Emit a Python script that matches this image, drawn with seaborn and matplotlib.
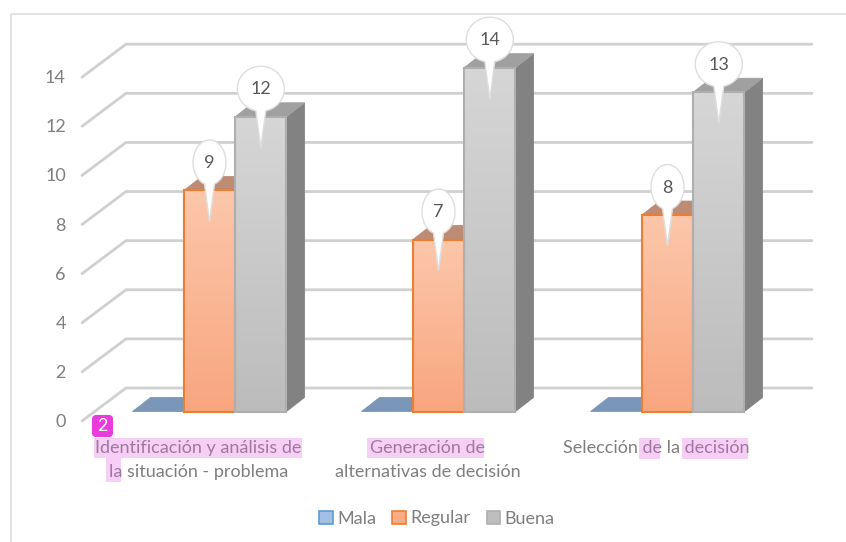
import numpy as np
import pandas as pd
import matplotlib
matplotlib.use("Agg")
import matplotlib.pyplot as plt
import matplotlib.transforms as mtransforms
from matplotlib.colors import LinearSegmentedColormap
from matplotlib.patches import Patch, PathPatch, Polygon, Rectangle, FancyBboxPatch
from matplotlib.path import Path
import seaborn as sns

categorias = ["Identificación y análisis de\nla situación - problema",
              "Generación de\nalternativas de decisión",
              "Selección de la decisión"]
niveles = ["Mala", "Regular", "Buena"]
mala = [0, 0, 0]
regular = [9, 7, 8]
buena = [12, 14, 13]
y_ticks = [0, 2, 4, 6, 8, 10, 12, 14]

W, H = 846, 542
sns.set_theme(style="white")
plt.rcParams["font.family"] = ["Lato", "DejaVu Sans"]
TXT = "#7f7f7f"

df = pd.DataFrame({
    "criterio": categorias * 3,
    "nivel": sum([[n] * 3 for n in niveles], []),
    "valor": mala + regular + buena,
})

fig = plt.figure(figsize=(W / 100, H / 100), dpi=100, facecolor="white")
def px_box(x0, ytop, x1, ybot):
    return [x0 / W, 1 - ybot / H, (x1 - x0) / W, (ybot - ytop) / H]
ax = fig.add_axes(px_box(95, 67.7, 782, 411.5))

face = {"Mala": "#A3BFE3", "Regular": "#F9AC85", "Buena": "#BEBEBE"}
edge = {"Mala": "#5B9BD5", "Regular": "#ED7D31", "Buena": "#AFAFAF"}
top_col = {"Mala": "#7A96B8", "Regular": "#BE8B74", "Buena": "#A0A0A0"}
side_col = {"Mala": "#5F7FA5", "Regular": "#B07050", "Buena": "#828282"}
grad = {"Regular": ("#FCC7AB", "#F8A67F"), "Buena": ("#D6D6D6", "#BCBCBC")}

sns.barplot(data=df, x="criterio", y="valor", hue="nivel", hue_order=niveles,
            palette=face, width=0.672, gap=0, saturation=1, legend=False, ax=ax)
ax.set_xlim(-0.5, 2.5)
ax.set_ylim(0, 14)
ax.set_xlabel("")
ax.set_ylabel("")
sns.despine(ax=ax, left=True, bottom=True)
ax.patch.set_alpha(0)

ux = 687 / 3     # px per category
uy = 343.8 / 14  # px per unit value
dx, dy = 18 / ux, 14 / uy

# back wall grid
wall_x0 = -0.5 + (126 - 95) / ux
wall_x1 = -0.5 + (812 - 95) / ux
wall_dy = 23.5 / uy
floor_x = -0.5 + (82 - 95) / ux
floor_y = -9.5 / uy
for v in y_ticks:
    ax.plot([floor_x, wall_x0, wall_x1], [v + floor_y, v + wall_dy, v + wall_dy],
            color="#D0D0D0", lw=2.0, zorder=0.5, clip_on=False,
            solid_joinstyle="miter", solid_capstyle="round")

# bars: 3D faces, gradient fronts
for nivel, cont in zip(niveles, ax.containers):
    for bar in cont:
        x0, w, h = bar.get_x(), bar.get_width(), bar.get_height()
        x1 = x0 + w
        ax.add_patch(Polygon([(x0, h), (x1, h), (x1 + dx, h + dy), (x0 + dx, h + dy)],
                             closed=True, fc=top_col[nivel], ec=top_col[nivel], lw=0.6,
                             zorder=1.2, clip_on=False))
        if h > 0:
            ax.add_patch(Polygon([(x1, 0), (x1 + dx, dy), (x1 + dx, h + dy), (x1, h)],
                                 closed=True, fc=side_col[nivel], ec=side_col[nivel], lw=0.6,
                                 zorder=1.1, clip_on=False))
            cmap = LinearSegmentedColormap.from_list("g", grad[nivel])
            im = ax.imshow(np.linspace(0, 1, 128)[:, None], cmap=cmap, aspect="auto",
                           extent=(x0, x1, 0, h), origin="upper", zorder=2)
            im.set_clip_path(Rectangle((x0, 0), w, h, transform=ax.transData))
            bar.set_facecolor("none")
            bar.set_edgecolor(edge[nivel])
            bar.set_linewidth(1.5)
            bar.set_zorder(2.1)
            bar.set_clip_on(False)
        else:
            bar.set_visible(False)
ax.set_xlim(-0.5, 2.5)
ax.set_ylim(0, 14)

# callouts (pixel geometry anchored to bar tops)
def callout(width, height=45, up=28, tip=31, half_base=5):
    rx, ry = width / 2, height / 2
    a0 = np.arcsin(half_base / rx)
    th = np.linspace(-np.pi / 2 + a0, 3 * np.pi / 2 - a0, 80)
    pts = np.column_stack([rx * np.cos(th), up + ry * np.sin(th)])
    pts = np.vstack([pts, [0, -tip], pts[0]])
    codes = [Path.MOVETO] + [Path.LINETO] * (len(pts) - 2) + [Path.CLOSEPOLY]
    return Path(pts, codes)

for nivel, cont in zip(niveles[1:], ax.containers[1:]):
    for bar in cont:
        h = bar.get_height()
        xc = bar.get_x() + bar.get_width() / 2
        label = str(int(h))
        tr = mtransforms.ScaledTranslation(xc, h, ax.transData)
        ax.add_patch(PathPatch(callout(33 if len(label) == 1 else 47), fc="white", ec="#DEDEDE",
                               lw=1.0, transform=tr, zorder=4, clip_on=False))
        ax.annotate(label, (xc, h), xytext=(0, 27.5 * 0.72), textcoords="offset points",
                    ha="center", va="center", fontsize=13, color="#595959", zorder=5)

# ticks, moved to the front edge of the floor
ax.set_yticks(y_ticks)
ax.tick_params(axis="both", length=0)
ax.tick_params(axis="y", pad=21, labelsize=13, labelcolor=TXT)
ax.tick_params(axis="x", pad=20.5, labelsize=13, labelcolor=TXT)
off_y = mtransforms.ScaledTranslation(0, -9 / 100, fig.dpi_scale_trans)
for lab in ax.get_yticklabels():
    lab.set_transform(lab.get_transform() + off_y)
off_x = mtransforms.ScaledTranslation(-11 / 100, 0, fig.dpi_scale_trans)
for lab in ax.get_xticklabels():
    lab.set_transform(lab.get_transform() + off_x)
    lab.set_linespacing(1.6)

handles = [Patch(fc=face[n], ec=edge[n], lw=1.2) for n in niveles]
ax.legend(handles, niveles, loc="center", bbox_to_anchor=(437 / W, 1 - 518.5 / H),
          bbox_transform=fig.transFigure, ncol=3, frameon=False, fontsize=13,
          labelcolor=TXT, handlelength=0.75, handleheight=0.75, handletextpad=0.25,
          columnspacing=0.9)

# page-level decoration: frame, highlight and badge
def rect_px(x0, y0, x1, y1, **kw):
    fig.add_artist(Rectangle((x0 / W, 1 - y1 / H), (x1 - x0) / W, (y1 - y0) / H,
                             transform=fig.transFigure, **kw))
for r in [(94, 438, 302, 458), (106, 458, 121, 482), (367, 438, 484, 458),
          (639, 438, 660, 459), (682, 438, 748, 459)]:
    rect_px(*r, fc="#E969E2", alpha=0.32, ec="none", zorder=5)
fig.add_artist(plt.Line2D([10.5 / W, 10.5 / W, 1], [0, 1 - 13.5 / H, 1 - 13.5 / H],
                          color="#E0E0E0", lw=1.3, zorder=-1))
fig.add_artist(FancyBboxPatch((93 / W, 1 - 436 / H), 19 / W, 20 / H,
                              boxstyle="round,pad=0,rounding_size=0.004",
                              mutation_aspect=W / H, fc="#EA3BDC", ec="#EA3BDC", lw=1.5,
                              transform=fig.transFigure, zorder=6))
fig.text(102.5 / W, 1 - 426 / H, "2", color="white", fontsize=13, ha="center", va="center", zorder=7)

fig.savefig("out.png", dpi=100)
